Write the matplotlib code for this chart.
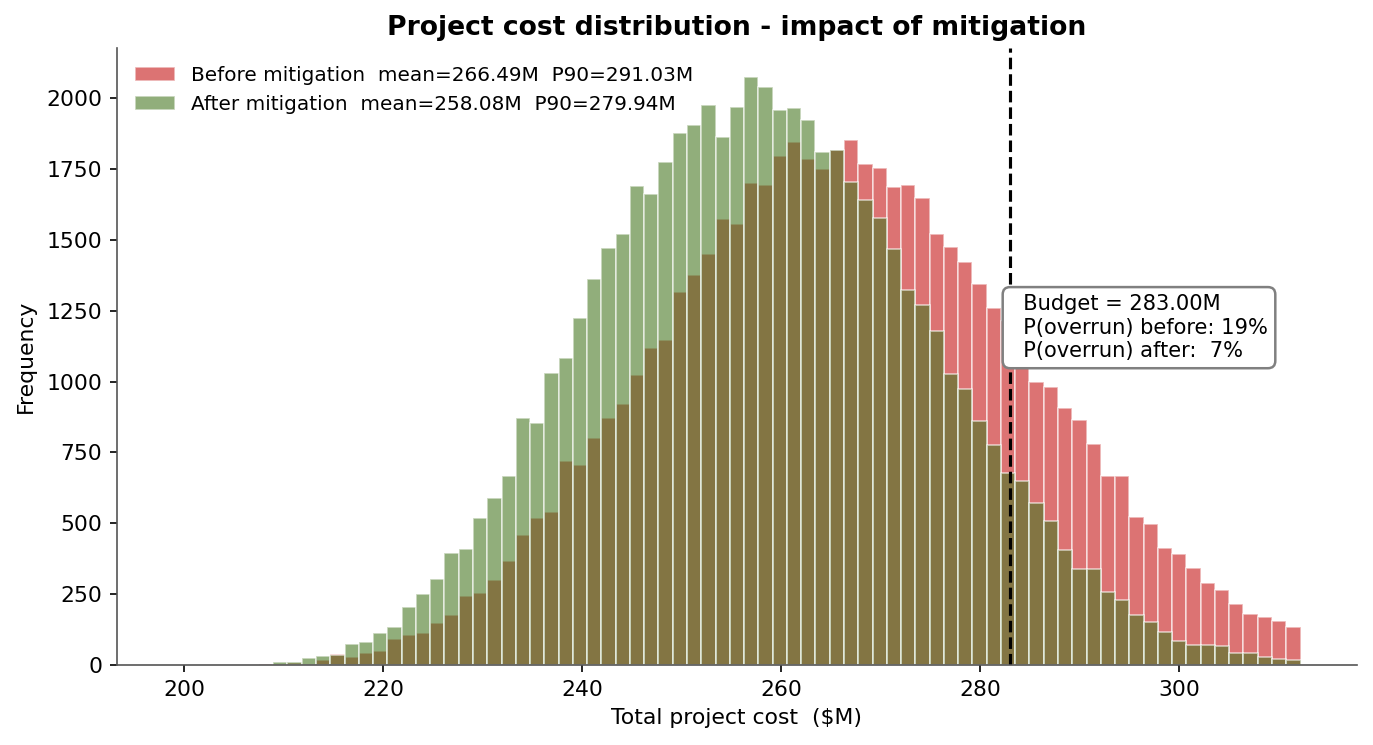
import numpy as np
import matplotlib
matplotlib.use('Agg')
import matplotlib.pyplot as plt

# histogram range (79 equal bins between these)
cost_min = 198.9
cost_max = 312.2
n_bins = 79
budget = 283.0

# counts, bin by bin
before_counts = [1, 0, 0, 0, 0, 0, 3, 5, 8, 3,
                 16, 38, 28, 41, 48, 91, 105, 112, 147, 175,
                 244, 253, 300, 366, 458, 520, 539, 720, 706, 801,
                 872, 920, 1024, 1119, 1147, 1317, 1377, 1451, 1572, 1555,
                 1699, 1692, 1794, 1844, 1785, 1748, 1817, 1851, 1769, 1755,
                 1685, 1692, 1646, 1522, 1476, 1420, 1345, 1261, 1213, 1095,
                 999, 982, 907, 865, 780, 667, 667, 522, 497, 412,
                 391, 342, 289, 264, 214, 179, 168, 154, 133]
after_counts = [0, 0, 0, 0, 0, 0, 0, 12, 12, 24,
                31, 36, 73, 82, 114, 133, 206, 250, 303, 395,
                409, 518, 589, 667, 872, 854, 1031, 1084, 1225, 1360,
                1472, 1522, 1688, 1663, 1776, 1875, 1904, 1974, 1861, 1967,
                2073, 2038, 1957, 1964, 1921, 1808, 1815, 1703, 1642, 1578,
                1467, 1324, 1269, 1177, 1028, 972, 859, 777, 677, 648,
                571, 507, 404, 340, 340, 256, 231, 178, 152, 118,
                86, 71, 71, 67, 41, 41, 27, 20, 17]

before_label = 'Before mitigation  mean=266.49M  P90=291.03M'
after_label = 'After mitigation  mean=258.08M  P90=279.94M'
box_text = ('  Budget = 283.00M\n'
            '  P(overrun) before: 19%\n'
            '  P(overrun) after:  7%')

edges = np.linspace(cost_min, cost_max, n_bins + 1)
centers = (edges[:-1] + edges[1:]) / 2

fig = plt.figure(figsize=(1373 / 150, 745 / 150), dpi=150)
ax = fig.add_axes([0.0852, 0.1074, 0.9031, 0.8282])

ax.hist(centers, bins=edges, weights=before_counts, color='#c61616',
        alpha=0.6, edgecolor='white', linewidth=0.8, label=before_label)
ax.hist(centers, bins=edges, weights=after_counts, color='#487823',
        alpha=0.6, edgecolor='white', linewidth=0.8, label=after_label)

ax.axvline(budget, color='black', linestyle='--', linewidth=1.5)
ax.text(budget, 1190, box_text, ha='left', va='center', fontsize=10.1,
        bbox=dict(boxstyle='round,pad=0.35', facecolor='white',
                  edgecolor='gray', linewidth=1.2))

ax.set_title('Project cost distribution - impact of mitigation',
             fontsize=12.75, fontweight='bold')
ax.set_xlabel('Total project cost  (\\$M)', fontsize=10.5)
ax.set_ylabel('Frequency', fontsize=10.5, labelpad=5)
ax.set_yticks(np.arange(0, 2001, 250))
ax.tick_params(labelsize=10.5)
ax.legend(loc='upper left', frameon=False, fontsize=9.6)

ax.spines['top'].set_visible(False)
ax.spines['right'].set_visible(False)
ax.spines['left'].set_color('#555555')
ax.spines['bottom'].set_color('#555555')

fig.savefig('out.png', dpi=150)
